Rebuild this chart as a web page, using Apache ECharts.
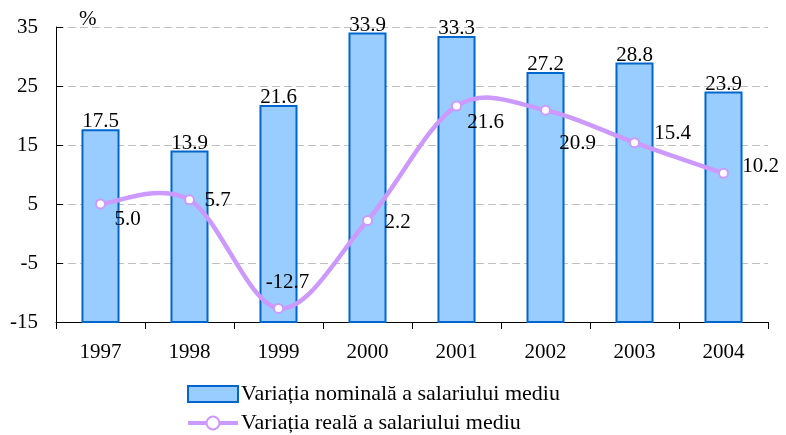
<!DOCTYPE html>
<html><head><meta charset="utf-8">
<script src="https://cdn.jsdelivr.net/npm/echarts@6/dist/echarts.min.js"></script>
<style>html,body{margin:0;padding:0;background:#fff}#c{width:786px;height:435px}</style>
</head><body><div id="c"></div>
<script>
var years = ['1997','1998','1999','2000','2001','2002','2003','2004'];
var nominal = [17.5, 13.9, 21.6, 33.9, 33.3, 27.2, 28.8, 23.9];
var real = [5.0, 5.7, -12.7, 2.2, 21.6, 20.9, 15.4, 10.2];
var nominalName = 'Variația nominală a salariului mediu';
var realName = 'Variația reală a salariului mediu';
var yTicks = [-15, -5, 5, 15, 25, 35];

// label centre offsets (px) relative to each point of the real series
var realLabelOffset = [[27,15],[28,1],[9,-26],[30,2],[29,16],[32,33],[38,-9],[37,-7]];

var font = '"Liberation Serif", "Times New Roman", serif';
var FS = 21;
var yMin = yTicks[0], yMax = yTicks[yTicks.length-1];

function barItem(params, api){
  var i = api.value(0), v = api.value(1);
  var top = api.coord([i, v]);
  var base = api.coord([i, yMin]);
  var w = api.size([1, 0])[0] * 0.405;
  return {
    type:'rect',
    shape:{x:top[0]-w/2, y:top[1], width:w, height:base[1]-top[1]},
    style:{fill:'#99ccff', stroke:'#0066cc', lineWidth:2},
    textContent:{style:{text:v.toFixed(1), fill:'#000', font:FS+'px '+font}},
    textConfig:{position:'top', distance:-3}
  };
}

function curveItem(params, api){
  var i = params.dataIndex, n = real.length;
  if (i >= n-1) return null;
  function P(j){ j = Math.max(0, Math.min(n-1, j)); return api.coord([j, real[j]]); }
  var p0 = P(i-1), p1 = P(i), p2 = P(i+1), p3 = P(i+2);
  var k = 1/6;
  var c1 = [p1[0] + (p2[0]-p0[0])*k, p1[1] + (p2[1]-p0[1])*k];
  var c2 = [p2[0] - (p3[0]-p1[0])*k, p2[1] - (p3[1]-p1[1])*k];
  return {
    type:'bezierCurve',
    shape:{x1:p1[0], y1:p1[1], x2:p2[0], y2:p2[1], cpx1:c1[0], cpy1:c1[1], cpx2:c2[0], cpy2:c2[1]},
    style:{stroke:'#cc99ff', lineWidth:4.5, fill:null, lineCap:'round'}
  };
}

var chart = echarts.init(document.getElementById('c'), null, {renderer:'canvas'});
chart.setOption({
  animation:false,
  textStyle:{fontFamily:font},
  grid:{left:56, right:18, top:27, bottom:113},
  legend:{
    orient:'vertical', left:186, top:383, itemGap:7, itemWidth:50, itemHeight:16, padding:0,
    textStyle:{fontFamily:font, fontSize:22, color:'#000', padding:[0,0,0,-2]},
    data:[
      {name:nominalName, icon:'rect', itemStyle:{color:'#99ccff', borderColor:'#0066cc', borderWidth:2}},
      {name:realName, lineStyle:{color:'#cc99ff', width:4, opacity:1}, itemStyle:{color:'#fff', borderColor:'#cc99ff', borderWidth:2}}
    ]
  },
  graphic:[{type:'text', left:79, top:9, style:{text:'%', fill:'#000', font:FS+'px '+font}}],
  xAxis:{
    type:'category', data:years,
    axisLine:{onZero:false, lineStyle:{color:'#000', width:1}},
    axisTick:{show:true, length:7, lineStyle:{color:'#000'}},
    axisLabel:{color:'#000', fontFamily:font, fontSize:FS, margin:20}
  },
  yAxis:{
    type:'value', min:yMin, max:yMax, interval:10,
    axisLine:{show:true, lineStyle:{color:'#000'}},
    axisTick:{show:true, inside:true, length:7, lineStyle:{color:'#000'}},
    axisLabel:{color:'#000', fontFamily:font, fontSize:FS, margin:18},
    splitLine:{show:true, lineStyle:{color:'#c0c0c0', type:[8,4], width:1}}
  },
  series:[
    {
      name:nominalName, type:'custom', renderItem:barItem,
      data:nominal.map(function(v,i){return [i,v];}),
      encode:{x:0, y:1},
      itemStyle:{color:'#99ccff', borderColor:'#0066cc', borderWidth:2}, z:2
    },
    {
      name:'curve', type:'custom', renderItem:curveItem,
      data:real.map(function(v,i){return [i,v];}),
      encode:{x:0, y:1}, z:4, silent:true
    },
    {
      name:realName, type:'line',
      data:real.map(function(v,i){return {value:v, label:{offset:realLabelOffset[i]}};}),
      symbol:'circle', symbolSize:9, z:5,
      lineStyle:{color:'#cc99ff', width:4, opacity:0},
      itemStyle:{color:'#fff', borderColor:'#cc99ff', borderWidth:2},
      label:{show:true, position:'inside', color:'#000', fontFamily:font, fontSize:FS,
             formatter:function(p){return p.value.toFixed(1);}}
    }
  ]
});
</script></body></html>
